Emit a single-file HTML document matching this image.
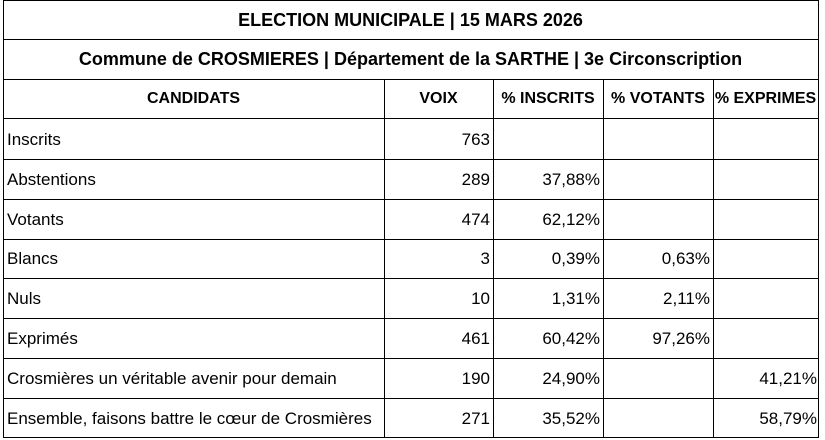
<!DOCTYPE html>
<html><head><meta charset="utf-8"><style>
body{margin:0;width:825px;height:440px;background:#fff;overflow:hidden;font-family:"Liberation Sans",Arial,sans-serif;color:#000;}
.h{position:absolute;background:#000;height:1px}
.v{position:absolute;background:#000;width:1px}
.t{position:absolute;font-size:17px;line-height:40px;white-space:nowrap}
.b{font-weight:bold}
.c{text-align:center}
.r{text-align:right}
</style></head><body>
<div class="h" style="left:3px;width:816px;top:0"></div>
<div class="h" style="left:3px;width:816px;top:39px"></div>
<div class="h" style="left:3px;width:816px;top:79px"></div>
<div class="h" style="left:3px;width:816px;top:118px"></div>
<div class="h" style="left:3px;width:816px;top:159px"></div>
<div class="h" style="left:3px;width:816px;top:199px"></div>
<div class="h" style="left:3px;width:816px;top:239px"></div>
<div class="h" style="left:3px;width:816px;top:278px"></div>
<div class="h" style="left:3px;width:816px;top:318px"></div>
<div class="h" style="left:3px;width:816px;top:358px"></div>
<div class="h" style="left:3px;width:816px;top:398px"></div>
<div class="h" style="left:3px;width:816px;top:437px"></div>
<div class="v" style="left:3px;top:0;height:438px"></div>
<div class="v" style="left:818px;top:0;height:438px"></div>
<div class="v" style="left:384px;top:79px;height:359px"></div>
<div class="v" style="left:493px;top:79px;height:359px"></div>
<div class="v" style="left:603px;top:79px;height:359px"></div>
<div class="v" style="left:713px;top:79px;height:359px"></div>

<div class="t b c" style="left:3px;width:815px;top:0;font-size:18px">ELECTION MUNICIPALE | 15 MARS 2026</div>
<div class="t b c" style="left:3px;width:815px;top:39px;font-size:18px">Commune de CROSMIERES | Département de la SARTHE | 3e Circonscription</div>
<div class="t b c" style="left:3px;width:381px;top:79px;font-size:16px">CANDIDATS</div>
<div class="t b c" style="left:384px;width:109px;top:79px;font-size:16px">VOIX</div>
<div class="t b c" style="left:493px;width:110px;top:79px;font-size:16px">% INSCRITS</div>
<div class="t b c" style="left:603px;width:110px;top:79px;font-size:16px">% VOTANTS</div>
<div class="t b c" style="left:713px;width:105px;top:79px;font-size:16px">% EXPRIMES</div>

<div class="t" style="left:7px;top:120px">Inscrits</div>
<div class="t" style="left:7px;top:160px">Abstentions</div>
<div class="t" style="left:7px;top:200px">Votants</div>
<div class="t" style="left:7px;top:239px">Blancs</div>
<div class="t" style="left:7px;top:279px">Nuls</div>
<div class="t" style="left:7px;top:319px">Exprimés</div>
<div class="t" style="left:7px;top:359px">Crosmières un véritable avenir pour demain</div>
<div class="t" style="left:7px;top:399px">Ensemble, faisons battre le cœur de Crosmières</div>

<div class="t r" style="right:335px;top:120px">763</div>
<div class="t r" style="right:335px;top:160px">289</div>
<div class="t r" style="right:335px;top:200px">474</div>
<div class="t r" style="right:335px;top:239px">3</div>
<div class="t r" style="right:335px;top:279px">10</div>
<div class="t r" style="right:335px;top:319px">461</div>
<div class="t r" style="right:335px;top:359px">190</div>
<div class="t r" style="right:335px;top:399px">271</div>

<div class="t r" style="right:225px;top:160px">37,88%</div>
<div class="t r" style="right:225px;top:200px">62,12%</div>
<div class="t r" style="right:225px;top:239px">0,39%</div>
<div class="t r" style="right:225px;top:279px">1,31%</div>
<div class="t r" style="right:225px;top:319px">60,42%</div>
<div class="t r" style="right:225px;top:359px">24,90%</div>
<div class="t r" style="right:225px;top:399px">35,52%</div>

<div class="t r" style="right:115px;top:239px">0,63%</div>
<div class="t r" style="right:115px;top:279px">2,11%</div>
<div class="t r" style="right:115px;top:319px">97,26%</div>

<div class="t r" style="right:8px;top:359px">41,21%</div>
<div class="t r" style="right:8px;top:399px">58,79%</div>
</body></html>
